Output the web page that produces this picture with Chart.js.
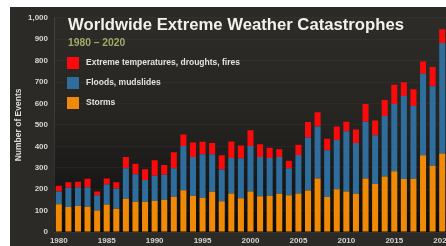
<!DOCTYPE html>
<html>
<head>
<meta charset="utf-8">
<script src="https://cdn.jsdelivr.net/npm/chart.js@4"></script>
<style>
  html, body { margin: 0; padding: 0; background: #fff; overflow: hidden; width: 446px; height: 246px; }
  #wrap { position: absolute; left: 10px; top: 7px; width: 460px; height: 239px; background: #2c2a26; }
</style>
</head>
<body>
<div id="wrap"><canvas id="chart" width="460" height="239"></canvas></div>
<script>
const years = [];
for (let y = 1980; y <= 2020; y++) years.push(y);

const storms = [130, 117, 121, 118, 100, 128, 109, 155, 141, 141,
  146, 151, 165, 195, 169, 160, 188, 144, 180, 158,
  189, 167, 169, 178, 172, 180, 194, 250, 163, 200,
  189, 178, 250, 224, 259, 284, 247, 249, 358, 309, 367];
const floods = [59, 90, 88, 91, 71, 95, 94, 143, 129, 102,
  117, 116, 133, 206, 181, 203, 175, 148, 166, 186,
  212, 183, 177, 172, 126, 179, 247, 242, 219, 229,
  281, 238, 265, 228, 283, 314, 388, 339, 381, 372, 515];
const extremes = [27, 25, 26, 40, 18, 27, 29, 52, 49, 50,
  72, 46, 74, 54, 68, 58, 53, 66, 77, 60,
  74, 60, 47, 36, 35, 48, 72, 67, 53, 63,
  45, 63, 83, 69, 74, 90, 64, 79, 57, 89, 64];
const yTicks = [0, 100, 200, 300, 400, 500, 600, 700, 800, 900, 1000];
const xTickLabels = years.map(y => (y % 5 === 0 ? String(y) : ""));

const titleText = "Worldwide Extreme Weather Catastrophes";
const subtitleText = "1980 \u2013 2020";
const font = "'Liberation Sans', Arial, sans-serif";

const backdrop = {
  id: "backdrop",
  beforeDraw(chart) {
    const { ctx, chartArea: a } = chart;
    ctx.save();
    const g = ctx.createLinearGradient(0, a.top, 0, a.bottom);
    g.addColorStop(0, "#2e2c28");
    g.addColorStop(0.45, "#272521");
    g.addColorStop(0.75, "#1a1918");
    g.addColorStop(1, "#0b0b0b");
    ctx.fillStyle = g;
    ctx.fillRect(a.left, a.top, a.right - a.left, a.bottom - a.top);
    ctx.restore();
  },
  afterDraw(chart) {
    const ctx = chart.ctx;
    ctx.save();
    ctx.textBaseline = "middle";
    ctx.fillStyle = "#f2f1ea";
    ctx.font = "bold 16.7px " + font;
    ctx.fillText(titleText, 58, 18);
    ctx.fillStyle = "#9fac68";
    ctx.font = "bold 10.3px " + font;
    ctx.fillText(subtitleText, 58, 36);
    // legend, top series first
    const ds = chart.data.datasets.slice().reverse();
    ds.forEach((d, i) => {
      const y = 50 + i * 20;
      ctx.fillStyle = d.backgroundColor;
      ctx.fillRect(57, y, 12, 12);
      ctx.fillStyle = "#e2e2de";
      ctx.font = "bold 8.5px " + font;
      ctx.fillText(d.label, 76, y + 6);
    });
    ctx.restore();
  }
};

new Chart(document.getElementById("chart"), {
  type: "bar",
  data: {
    labels: years,
    datasets: [
      { label: "Storms", data: storms, backgroundColor: "#f08a06" },
      { label: "Floods, mudslides", data: floods, backgroundColor: "#2e6d9c" },
      { label: "Extreme temperatures, droughts, fires", data: extremes, backgroundColor: "#fa0a0a" }
    ]
  },
  options: {
    responsive: false,
    animation: false,
    devicePixelRatio: 1,
    categoryPercentage: 1,
    barPercentage: 0.63,
    layout: { padding: { top: 8, right: 23, left: 0, bottom: 0 } },
    plugins: { legend: { display: false }, tooltip: { enabled: false } },
    scales: {
      x: {
        stacked: true,
        grid: { display: false, drawTicks: false },
        border: { display: false },
        afterFit: (s) => { s.height = 14; },
        ticks: {
          autoSkip: false,
          maxRotation: 0,
          padding: 4,
          color: "#d4d4d0",
          font: { family: font, size: 8, weight: "bold" },
          callback: (v, i) => xTickLabels[i]
        }
      },
      y: {
        stacked: true,
        min: 0,
        max: 1000,
        afterFit: (s) => { s.width = 44; },
        afterBuildTicks: (s) => { s.ticks = yTicks.map(v => ({ value: v })); },
        grid: { color: "rgba(255,255,255,0.035)", drawTicks: false },
        border: { display: true, color: "rgba(255,255,255,0.10)" },
        title: {
          display: true,
          text: "Number of Events",
          color: "#dcdcd8",
          font: { family: font, size: 8.5, weight: "bold" },
          padding: { top: 4, bottom: 0 }
        },
        ticks: {
          padding: 6,
          color: "#d4d4d0",
          font: { family: font, size: 8, weight: "bold" },
          callback: (v) => v.toLocaleString("en-US")
        }
      }
    }
  },
  plugins: [backdrop]
});
</script>
</body>
</html>
